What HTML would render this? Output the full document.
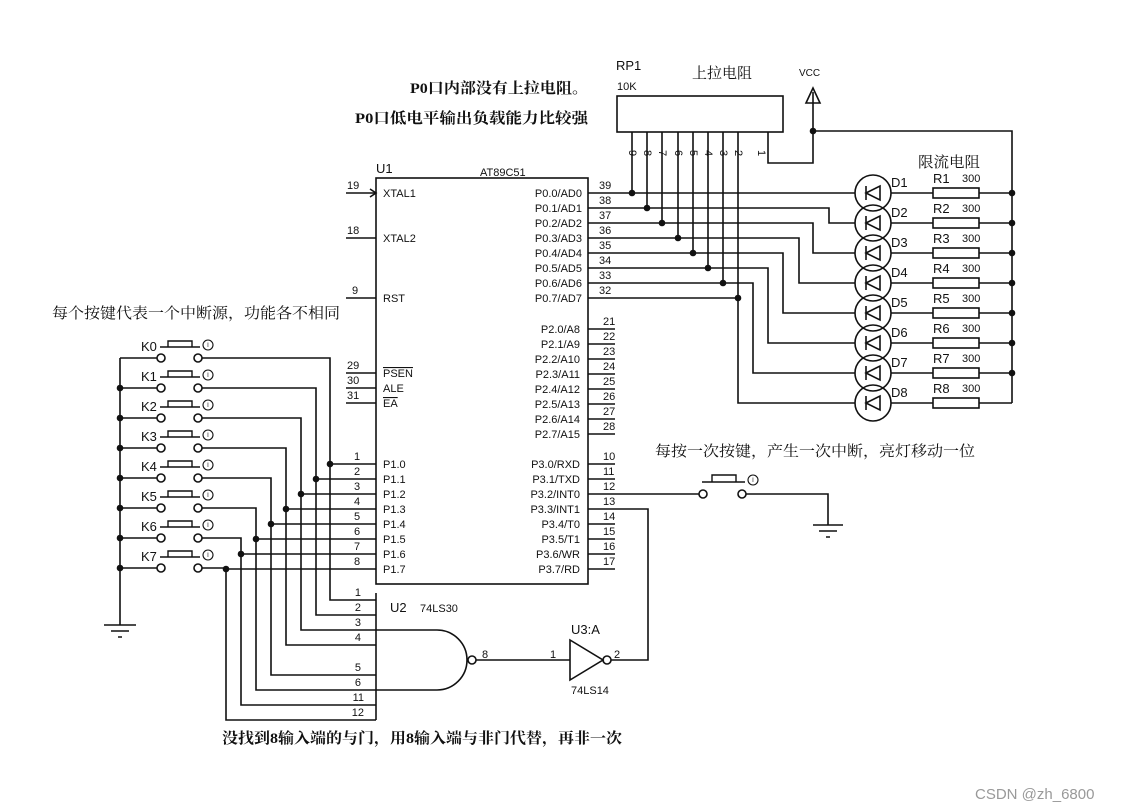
<!DOCTYPE html>
<html><head><meta charset="utf-8"><style>
html,body{margin:0;padding:0;background:#fff}
svg{display:block}
text{font-family:"Liberation Sans","Noto Sans CJK SC",sans-serif;fill:#111}
.s{font-size:11px}
.cn{font-family:"Liberation Serif","Noto Serif CJK SC",serif;font-size:15px}
</style></head><body>
<svg width="1137" height="812" viewBox="0 0 1137 812" xmlns="http://www.w3.org/2000/svg">
<g stroke="#111" stroke-width="1.6" fill="none">
<rect x="376" y="178" width="212" height="406"/>
<path d="M346 193H376M346 238H376M346 298H376M346 373H376M346 388H376M346 403H376"/>
<path d="M370 189L376 193L370 197"/>
<path d="M588 329H615M588 344H615M588 359H615M588 374H615M588 389H615M588 404H615M588 419H615M588 434H615"/>
<path d="M588 464H615M588 479H615M588 554H615M588 569H615M588 524H615M588 539H615"/>
<path d="M588 193H855"/>
<path d="M588 208H829V223H855"/>
<path d="M588 223H813V253H855"/>
<path d="M588 238H799V283H855"/>
<path d="M588 253H783V313H855"/>
<path d="M588 268H768V343H855"/>
<path d="M588 283H753V373H855"/>
<path d="M588 298H738"/>
<rect x="617" y="96" width="166" height="36"/>
<path d="M632 132V193M647 132V208M662 132V223M678 132V238M693 132V253M708 132V268M723 132V283M738 132V403H855"/>
<path d="M768 132V163H813V92"/>
<path d="M813 131H1012V403"/>
<path d="M813 88L806 103H820Z"/>
<circle cx="873" cy="193" r="18"/><circle cx="873" cy="223" r="18"/><circle cx="873" cy="253" r="18"/><circle cx="873" cy="283" r="18"/>
<circle cx="873" cy="313" r="18"/><circle cx="873" cy="343" r="18"/><circle cx="873" cy="373" r="18"/><circle cx="873" cy="403" r="18"/>
<path d="M866 193L880 186V200ZM866 186V200M866 223L880 216V230ZM866 216V230M866 253L880 246V260ZM866 246V260M866 283L880 276V290ZM866 276V290M866 313L880 306V320ZM866 306V320M866 343L880 336V350ZM866 336V350M866 373L880 366V380ZM866 366V380M866 403L880 396V410ZM866 396V410"/>
<path d="M891 193H933M979 193H1012M891 223H933M979 223H1012M891 253H933M979 253H1012M891 283H933M979 283H1012M891 313H933M979 313H1012M891 343H933M979 343H1012M891 373H933M979 373H1012M891 403H933M979 403H1012"/>
<rect x="933" y="188" width="46" height="10"/><rect x="933" y="218" width="46" height="10"/><rect x="933" y="248" width="46" height="10"/><rect x="933" y="278" width="46" height="10"/>
<rect x="933" y="308" width="46" height="10"/><rect x="933" y="338" width="46" height="10"/><rect x="933" y="368" width="46" height="10"/><rect x="933" y="398" width="46" height="10"/>
<path d="M120 358V625M104 625H136M111 631H129M118 637H122"/>
<path d="M120 358H157M120 388H157M120 418H157M120 448H157M120 478H157M120 508H157M120 538H157M120 568H157"/>
<circle cx="161" cy="358" r="4"/><circle cx="198" cy="358" r="4"/>
<circle cx="161" cy="388" r="4"/><circle cx="198" cy="388" r="4"/>
<circle cx="161" cy="418" r="4"/><circle cx="198" cy="418" r="4"/>
<circle cx="161" cy="448" r="4"/><circle cx="198" cy="448" r="4"/>
<circle cx="161" cy="478" r="4"/><circle cx="198" cy="478" r="4"/>
<circle cx="161" cy="508" r="4"/><circle cx="198" cy="508" r="4"/>
<circle cx="161" cy="538" r="4"/><circle cx="198" cy="538" r="4"/>
<circle cx="161" cy="568" r="4"/><circle cx="198" cy="568" r="4"/>
<path d="M160 347H200M168 347V341H192V347M160 377H200M168 377V371H192V377M160 407H200M168 407V401H192V407M160 437H200M168 437V431H192V437M160 467H200M168 467V461H192V467M160 497H200M168 497V491H192V497M160 527H200M168 527V521H192V527M160 557H200M168 557V551H192V557" stroke-width="1.4"/>
<g stroke-width="1.1"><circle cx="208" cy="345" r="5"/><circle cx="208" cy="375" r="5"/><circle cx="208" cy="405" r="5"/><circle cx="208" cy="435" r="5"/><circle cx="208" cy="465" r="5"/><circle cx="208" cy="495" r="5"/><circle cx="208" cy="525" r="5"/><circle cx="208" cy="555" r="5"/></g>
<path d="M202 358H330V600H376M202 388H316V615H376M202 418H301V630H376M202 448H286V645H376M202 478H271V675H376M202 508H256V690H376M202 538H241V705H376M202 568H226V720H376"/>
<path d="M330 464H376M316 479H376M301 494H376M286 509H376M271 524H376M256 539H376M241 554H376M226 569H376"/>
<path d="M376 593V720"/>
<path d="M376 630H437A30 30 0 0 1 437 690H376"/>
<circle cx="472" cy="660" r="4"/>
<path d="M476 660H570M570 640V680L603 660Z"/>
<circle cx="607" cy="660" r="4"/>
<path d="M611 660H648V509H588"/>
<path d="M588 494H699M746 494H828V525M813 525H843M819 531H837M826 537H830"/>
<circle cx="703" cy="494" r="4"/><circle cx="742" cy="494" r="4"/>
<path d="M702 482H745M712 482V475H736V482" stroke-width="1.4"/>
<circle cx="753" cy="480" r="5" stroke-width="1.1"/>
</g>
<g fill="#111">
<circle cx="632" cy="193" r="3.3"/><circle cx="647" cy="208" r="3.3"/><circle cx="662" cy="223" r="3.3"/><circle cx="678" cy="238" r="3.3"/>
<circle cx="693" cy="253" r="3.3"/><circle cx="708" cy="268" r="3.3"/><circle cx="723" cy="283" r="3.3"/><circle cx="738" cy="298" r="3.3"/>
<circle cx="813" cy="131" r="3.3"/>
<circle cx="1012" cy="193" r="3.3"/><circle cx="1012" cy="223" r="3.3"/><circle cx="1012" cy="253" r="3.3"/><circle cx="1012" cy="283" r="3.3"/>
<circle cx="1012" cy="313" r="3.3"/><circle cx="1012" cy="343" r="3.3"/><circle cx="1012" cy="373" r="3.3"/>
<circle cx="120" cy="388" r="3.3"/><circle cx="120" cy="418" r="3.3"/><circle cx="120" cy="448" r="3.3"/><circle cx="120" cy="478" r="3.3"/>
<circle cx="120" cy="508" r="3.3"/><circle cx="120" cy="538" r="3.3"/><circle cx="120" cy="568" r="3.3"/>
<circle cx="330" cy="464" r="3.3"/><circle cx="316" cy="479" r="3.3"/><circle cx="301" cy="494" r="3.3"/><circle cx="286" cy="509" r="3.3"/>
<circle cx="271" cy="524" r="3.3"/><circle cx="256" cy="539" r="3.3"/><circle cx="241" cy="554" r="3.3"/><circle cx="226" cy="569" r="3.3"/>
</g>
<text x="410" y="93" class="cn" font-weight="bold" textLength="178" lengthAdjust="spacingAndGlyphs">P0口内部没有上拉电阻。</text>
<text x="355" y="123" class="cn" font-weight="bold" textLength="233" lengthAdjust="spacingAndGlyphs">P0口低电平输出负载能力比较强</text>
<text x="616" y="70" font-size="13">RP1</text>
<text x="617" y="90" class="s">10K</text>
<text x="692" y="78" class="cn" textLength="60" lengthAdjust="spacingAndGlyphs">上拉电阻</text>
<text x="799" y="76" font-size="10">VCC</text>
<g class="s" font-size="9">
<text x="629" y="150" transform="rotate(90 629 150)">9</text><text x="644" y="150" transform="rotate(90 644 150)">8</text>
<text x="659" y="150" transform="rotate(90 659 150)">7</text><text x="675" y="150" transform="rotate(90 675 150)">6</text>
<text x="690" y="150" transform="rotate(90 690 150)">5</text><text x="705" y="150" transform="rotate(90 705 150)">4</text>
<text x="720" y="150" transform="rotate(90 720 150)">3</text><text x="735" y="150" transform="rotate(90 735 150)">2</text>
<text x="758" y="150" transform="rotate(90 758 150)">1</text>
</g>
<text x="376" y="173" font-size="13">U1</text>
<text x="480" y="176" class="s">AT89C51</text>
<g class="s">
<text x="383" y="197">XTAL1</text><text x="383" y="242">XTAL2</text><text x="383" y="302">RST</text>
<text x="383" y="377" text-decoration="overline">PSEN</text><text x="383" y="392">ALE</text><text x="383" y="407" text-decoration="overline">EA</text>
<text x="383" y="468">P1.0</text><text x="383" y="483">P1.1</text><text x="383" y="498">P1.2</text><text x="383" y="513">P1.3</text>
<text x="383" y="528">P1.4</text><text x="383" y="543">P1.5</text><text x="383" y="558">P1.6</text><text x="383" y="573">P1.7</text>
<text x="347" y="189">19</text><text x="347" y="234">18</text><text x="352" y="294">9</text>
<text x="347" y="369">29</text><text x="347" y="384">30</text><text x="347" y="399">31</text>
<text x="354" y="460">1</text><text x="354" y="475">2</text><text x="354" y="490">3</text><text x="354" y="505">4</text>
<text x="354" y="520">5</text><text x="354" y="535">6</text><text x="354" y="550">7</text><text x="354" y="565">8</text>
</g>
<g class="s" text-anchor="end">
<text x="582" y="197">P0.0/AD0</text><text x="582" y="212">P0.1/AD1</text><text x="582" y="227">P0.2/AD2</text><text x="582" y="242">P0.3/AD3</text>
<text x="582" y="257">P0.4/AD4</text><text x="582" y="272">P0.5/AD5</text><text x="582" y="287">P0.6/AD6</text><text x="582" y="302">P0.7/AD7</text>
<text x="580" y="333">P2.0/A8</text><text x="580" y="348">P2.1/A9</text><text x="580" y="363">P2.2/A10</text><text x="580" y="378">P2.3/A11</text>
<text x="580" y="393">P2.4/A12</text><text x="580" y="408">P2.5/A13</text><text x="580" y="423">P2.6/A14</text><text x="580" y="438">P2.7/A15</text>
<text x="580" y="468">P3.0/RXD</text><text x="580" y="483">P3.1/TXD</text><text x="580" y="498">P3.2/INT0</text><text x="580" y="513">P3.3/INT1</text>
<text x="580" y="528">P3.4/T0</text><text x="580" y="543">P3.5/T1</text><text x="580" y="558">P3.6/WR</text><text x="580" y="573">P3.7/RD</text>
</g>
<g class="s">
<text x="599" y="189">39</text><text x="599" y="204">38</text><text x="599" y="219">37</text><text x="599" y="234">36</text>
<text x="599" y="249">35</text><text x="599" y="264">34</text><text x="599" y="279">33</text><text x="599" y="294">32</text>
<text x="603" y="325">21</text><text x="603" y="340">22</text><text x="603" y="355">23</text><text x="603" y="370">24</text>
<text x="603" y="385">25</text><text x="603" y="400">26</text><text x="603" y="415">27</text><text x="603" y="430">28</text>
<text x="603" y="460">10</text><text x="603" y="475">11</text><text x="603" y="490">12</text><text x="603" y="505">13</text>
<text x="603" y="520">14</text><text x="603" y="535">15</text><text x="603" y="550">16</text><text x="603" y="565">17</text>
</g>
<g font-size="13">
<text x="891" y="187">D1</text><text x="891" y="217">D2</text><text x="891" y="247">D3</text><text x="891" y="277">D4</text>
<text x="891" y="307">D5</text><text x="891" y="337">D6</text><text x="891" y="367">D7</text><text x="891" y="397">D8</text>
<text x="933" y="183">R1</text><text x="933" y="213">R2</text><text x="933" y="243">R3</text><text x="933" y="273">R4</text>
<text x="933" y="303">R5</text><text x="933" y="333">R6</text><text x="933" y="363">R7</text><text x="933" y="393">R8</text>
</g>
<g class="s">
<text x="962" y="182">300</text><text x="962" y="212">300</text><text x="962" y="242">300</text><text x="962" y="272">300</text>
<text x="962" y="302">300</text><text x="962" y="332">300</text><text x="962" y="362">300</text><text x="962" y="392">300</text>
</g>
<text x="918" y="167" class="cn" textLength="62" lengthAdjust="spacingAndGlyphs">限流电阻</text>
<text x="52" y="318" class="cn" textLength="288" lengthAdjust="spacingAndGlyphs">每个按键代表一个中断源，功能各不相同</text>
<g font-size="13">
<text x="141" y="351">K0</text><text x="141" y="381">K1</text><text x="141" y="411">K2</text><text x="141" y="441">K3</text>
<text x="141" y="471">K4</text><text x="141" y="501">K5</text><text x="141" y="531">K6</text><text x="141" y="561">K7</text>
</g>
<g font-size="6" text-anchor="middle">
<text x="208" y="347">I</text><text x="208" y="377">I</text><text x="208" y="407">I</text><text x="208" y="437">I</text>
<text x="208" y="467">I</text><text x="208" y="497">I</text><text x="208" y="527">I</text><text x="208" y="557">I</text><text x="753" y="482">I</text>
</g>
<text x="390" y="612" font-size="13">U2</text>
<text x="420" y="612" class="s">74LS30</text>
<g class="s" text-anchor="end">
<text x="361" y="596">1</text><text x="361" y="611">2</text><text x="361" y="626">3</text><text x="361" y="641">4</text>
<text x="361" y="671">5</text><text x="361" y="686">6</text><text x="364" y="701">11</text><text x="364" y="716">12</text>
</g>
<text x="482" y="658" class="s">8</text>
<text x="550" y="658" class="s">1</text>
<text x="614" y="658" class="s">2</text>
<text x="571" y="634" font-size="13">U3:A</text>
<text x="571" y="694" class="s">74LS14</text>
<text x="655" y="456" class="cn" textLength="320" lengthAdjust="spacingAndGlyphs">每按一次按键，产生一次中断，亮灯移动一位</text>
<text x="222" y="743" class="cn" font-weight="bold" textLength="400" lengthAdjust="spacingAndGlyphs">没找到8输入端的与门，用8输入端与非门代替，再非一次</text>
<text x="975" y="799" font-size="15" style="fill:#999">CSDN @zh_6800</text>
</svg>
</body></html>
